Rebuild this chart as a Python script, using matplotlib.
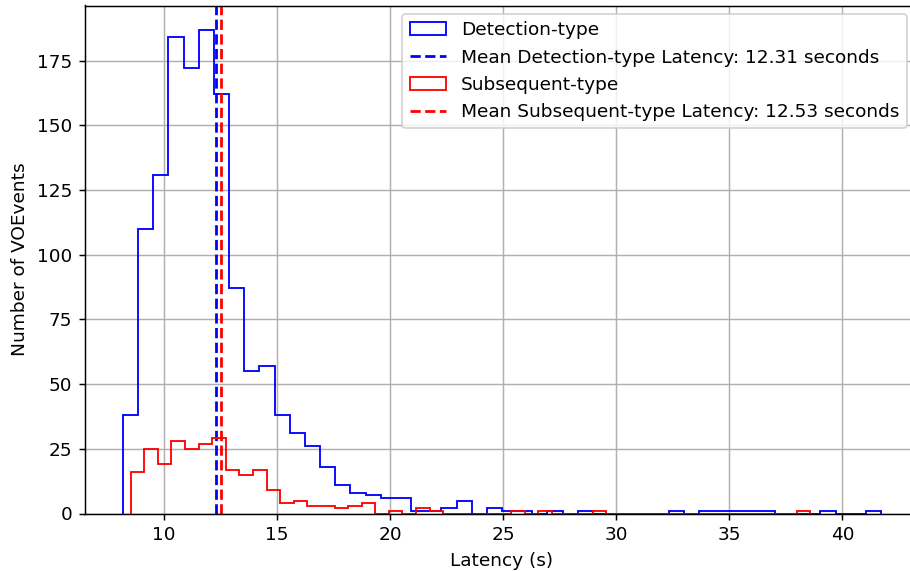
import numpy as np
import matplotlib
matplotlib.use("Agg")
import matplotlib.pyplot as plt

# Histogram data (50 bins each)
det_range = [8.19, 41.71]
det_counts = [38, 110, 131, 184, 172, 187, 162, 87, 55, 57,
              38, 31, 26, 18, 11, 8, 7, 6, 6, 1,
              1, 2, 5, 0, 2, 1, 1, 0, 1, 0,
              1, 0, 0, 0, 0, 0, 1, 0, 1, 1,
              1, 1, 1, 0, 0, 0, 1, 0, 0, 1]
sub_range = [8.53, 38.58]
sub_counts = [16, 25, 19, 28, 25, 27, 29, 17, 15, 17,
              9, 4, 5, 3, 3, 2, 3, 4, 0, 1,
              0, 2, 1, 0, 0, 0, 0, 0, 1, 0,
              1, 0, 0, 0, 1, 0, 0, 0, 0, 0,
              0, 0, 0, 0, 0, 0, 0, 0, 0, 1]
det_mean = 12.31
sub_mean = 12.53

DPI = 133
fig = plt.figure(figsize=(910 / DPI, 571 / DPI), dpi=DPI)
W, H = 910, 571
left, right, top, bottom = 85, 919, 5.5, 513.5
ax = fig.add_axes([left / W, 1 - bottom / H, (right - left) / W, (bottom - top) / H])

det_edges = np.linspace(det_range[0], det_range[1], len(det_counts) + 1)
sub_edges = np.linspace(sub_range[0], sub_range[1], len(sub_counts) + 1)
det_centers = (det_edges[:-1] + det_edges[1:]) / 2
sub_centers = (sub_edges[:-1] + sub_edges[1:]) / 2

ax.hist(det_centers, bins=det_edges, weights=det_counts, histtype='step',
        color='blue', label='Detection-type')
ax.axvline(det_mean, color='blue', linestyle='--', linewidth=1.5,
           label=f'Mean Detection-type Latency: {det_mean:.2f} seconds')
ax.hist(sub_centers, bins=sub_edges, weights=sub_counts, histtype='step',
        color='red', label='Subsequent-type')
ax.axvline(sub_mean, color='red', linestyle='--', linewidth=1.5,
           label=f'Mean Subsequent-type Latency: {sub_mean:.2f} seconds')

span = det_range[1] - det_range[0]
ax.set_xlim(det_range[0] - 0.05 * span, det_range[1] + 0.05 * span)
ax.set_ylim(0, max(det_counts) * 1.05)
ax.set_xlabel('Latency (s)')
ax.set_ylabel('Number of VOEvents')
ax.grid(True)
ax.legend(loc='upper right', bbox_to_anchor=(907 / W, 1 - 14 / H),
          bbox_transform=fig.transFigure, borderaxespad=0)

fig.savefig('out.png', dpi=DPI)
